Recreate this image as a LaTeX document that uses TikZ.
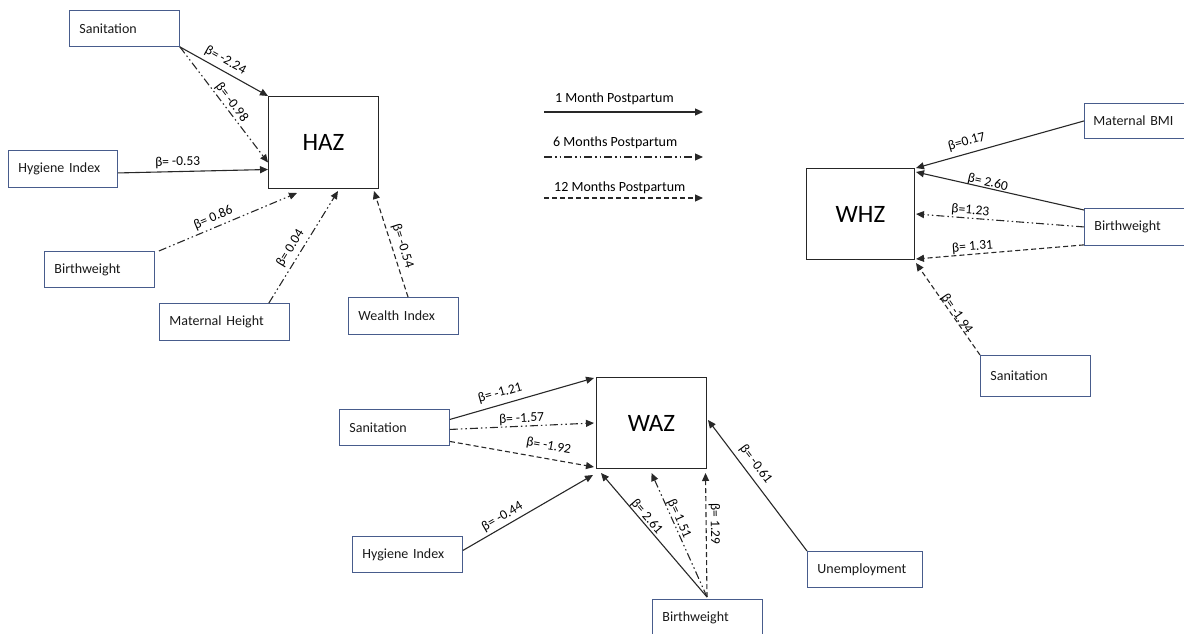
\documentclass[tikz,border=0pt]{standalone}
\usepackage{fontspec}
\setmainfont{Carlito}
\usetikzlibrary{arrows.meta}
\definecolor{boxblue}{RGB}{72,92,140}
\definecolor{linec}{RGB}{40,40,40}
\begin{document}
\begin{tikzpicture}[x=1pt,y=-1pt,
  box/.style={draw=boxblue, line width=0.9pt, inner xsep=10pt, inner ysep=0pt,
    align=left, anchor=north west, font=\fontsize{14}{16}\selectfont, text=black!90},
  zbox/.style={draw=black!85, line width=1pt, anchor=north west,
    font=\fontsize{25}{30}\selectfont, inner sep=0pt},
  arr/.style={draw=linec, line width=1.1pt, -{Triangle[length=8pt,width=7pt]}},
  ddot/.style={arr, dash pattern=on 8pt off 3pt on 1.5pt off 3pt on 1.5pt off 3pt},
  dsh/.style={arr, dash pattern=on 5pt off 3pt},
  lab/.style={font=\fontsize{13.5}{15}\selectfont, sloped, inner sep=1pt, text=black},
  leg/.style={font=\fontsize{14}{16}\selectfont, anchor=west, inner sep=0pt}
]
\useasboundingbox (0,0) rectangle (1184,634);

% ---------- HAZ ----------
\node[zbox, minimum width=110pt, minimum height=92pt] (haz) at (268,96) {HAZ};
\node[box, text width=90pt, minimum height=36pt] (san1) at (69,10) {Sanitation};
\node[box, text width=89pt, minimum height=37pt] (hyg1) at (8,150) {Hygiene Index};
\node[box, text width=90pt, minimum height=36pt] (bw1) at (44,251) {Birthweight};
\node[box, text width=110pt, minimum height=37pt] (mh) at (159,303) {Maternal Height};
\node[box, text width=90pt, minimum height=37pt] (wealth) at (348,297) {Wealth Index};

\draw[arr] (san1.south east) -- (haz.north west)
  node[lab, pos=.46, above=3pt] {β= -2.24};
\draw[ddot] (san1.south east) -- ([yshift=-20pt]haz.west)
  node[lab, pos=.52, above=0pt] {β= -0.98};
\draw[arr] ([yshift=-4pt]hyg1.east) -- ([yshift=-27pt]haz.west)
  node[lab, pos=.40, above=2pt] {β= -0.53};
\draw[ddot] ([xshift=4pt]bw1.north east) -- ([xshift=29pt,yshift=-4pt]haz.south west)
  node[lab, pos=.42, above=2pt] {β= 0.86};
\draw[ddot] ([xshift=-21pt]mh.north east) -- ([xshift=70pt,yshift=-2pt]haz.south west)
  node[lab, pos=.44, above=3pt] {β= 0.04};
\draw[dsh] ([xshift=60pt]wealth.north west) -- ([xshift=-5pt,yshift=-2pt]haz.south east)
  node[lab, pos=.45, above=3pt] {β= -0.54};

% ---------- Legend ----------
\node[leg] (t1) at (555,99) {1 Month Postpartum};
\node[leg] (t6) at (553,143) {6 Months Postpartum};
\node[leg] (t12) at (554,188) {12 Months Postpartum};
\coordinate (l1s) at (544,112); \coordinate (l1e) at (703,112);
\coordinate (l6s) at (544,157); \coordinate (l6e) at (703,157);
\coordinate (l12s) at (544,198); \coordinate (l12e) at (703,198);
\draw[arr] (l1s) -- (l1e);
\draw[ddot] (l6s) -- (l6e);
\draw[dsh] (l12s) -- (l12e);

% ---------- WHZ ----------
\node[zbox, minimum width=108pt, minimum height=91pt] (whz) at (806,168) {WHZ};
\node[box, minimum height=35pt, inner xsep=9pt, text width=82pt] (bmi) at (1084,103) {Maternal BMI};
\node[box, text width=80pt, minimum height=37pt] (bwh) at (1084,208) {Birthweight};
\node[box, text width=90pt, minimum height=41pt] (sanw) at (980,355) {Sanitation};

\draw[arr] (bmi.west) -- ([xshift=1pt]whz.north east)
  node[lab, pos=.68, above=4pt] {β=0.17};
\draw[arr] ([yshift=-2pt]bwh.north west) -- ([xshift=1pt,yshift=-4pt]whz.north east)
  node[lab, pos=.58, above=-2pt] {β= 2.60};
\draw[ddot] (bwh.west) -- ([xshift=1pt]whz.east)
  node[lab, pos=.68, above=0pt] {β=1.23};
\draw[dsh] ([yshift=1pt]bwh.south west) -- ([xshift=1pt,yshift=1pt]whz.south east)
  node[lab, pos=.66, above=0pt] {β= 1.31};
\draw[dsh] (sanw.north west) -- ([xshift=1pt,yshift=-3pt]whz.south east)
  node[lab, pos=.42, above=-3pt] {β= -1.94};

% ---------- WAZ ----------
\node[zbox, minimum width=110pt, minimum height=91pt] (waz) at (596,377) {WAZ};
\node[box, text width=90pt, minimum height=36pt] (sanz) at (339,409) {Sanitation};
\node[box, text width=90pt, minimum height=36pt] (hygz) at (352,536) {Hygiene Index};
\node[box, text width=90pt, minimum height=37pt] (bwz) at (652,599) {Birthweight};
\node[box, text width=95pt, minimum height=36pt] (unemp) at (807,551) {Unemployment};

\draw[arr] ([yshift=8pt]sanz.east) -- ([xshift=-2pt,yshift=-1pt]waz.north west)
  node[lab, pos=.37, above=4pt] {β= -1.21};
\draw[ddot] ([yshift=-2pt]sanz.east) -- ([xshift=-2pt]waz.west)
  node[lab, pos=.5, above=0pt] {β= -1.57};
\draw[dsh] ([yshift=-14pt]sanz.east) -- ([xshift=-2pt,yshift=2pt]waz.south west)
  node[lab, pos=.67, above=5pt] {β= -1.92};
\draw[arr] ([yshift=4pt]hygz.east) -- ([xshift=-3pt,yshift=-6pt]waz.south west)
  node[lab, pos=.34, above=2pt] {β= -0.44};
\draw[arr] ([xshift=55pt,yshift=2pt]bwz.north west) -- ([xshift=5pt,yshift=-4pt]waz.south west)
  node[lab, pos=.615, above=-1pt] {β= 2.61};
\draw[ddot] ([xshift=55pt,yshift=2pt]bwz.north west) -- ([yshift=-4pt]waz.south)
  node[lab, pos=.61, above=-1pt] {β= 1.51};
\draw[dsh] ([xshift=55pt,yshift=2pt]bwz.north west) -- ([xshift=-1.5pt,yshift=-4pt]waz.south east)
  node[lab, pos=.59, above=1pt] {β= 1.29};
\draw[arr] (unemp.north west) -- ([xshift=1pt,yshift=3pt]waz.east)
  node[lab, pos=.61, above=4pt] {β= -0.61};
\end{tikzpicture}
\end{document}
